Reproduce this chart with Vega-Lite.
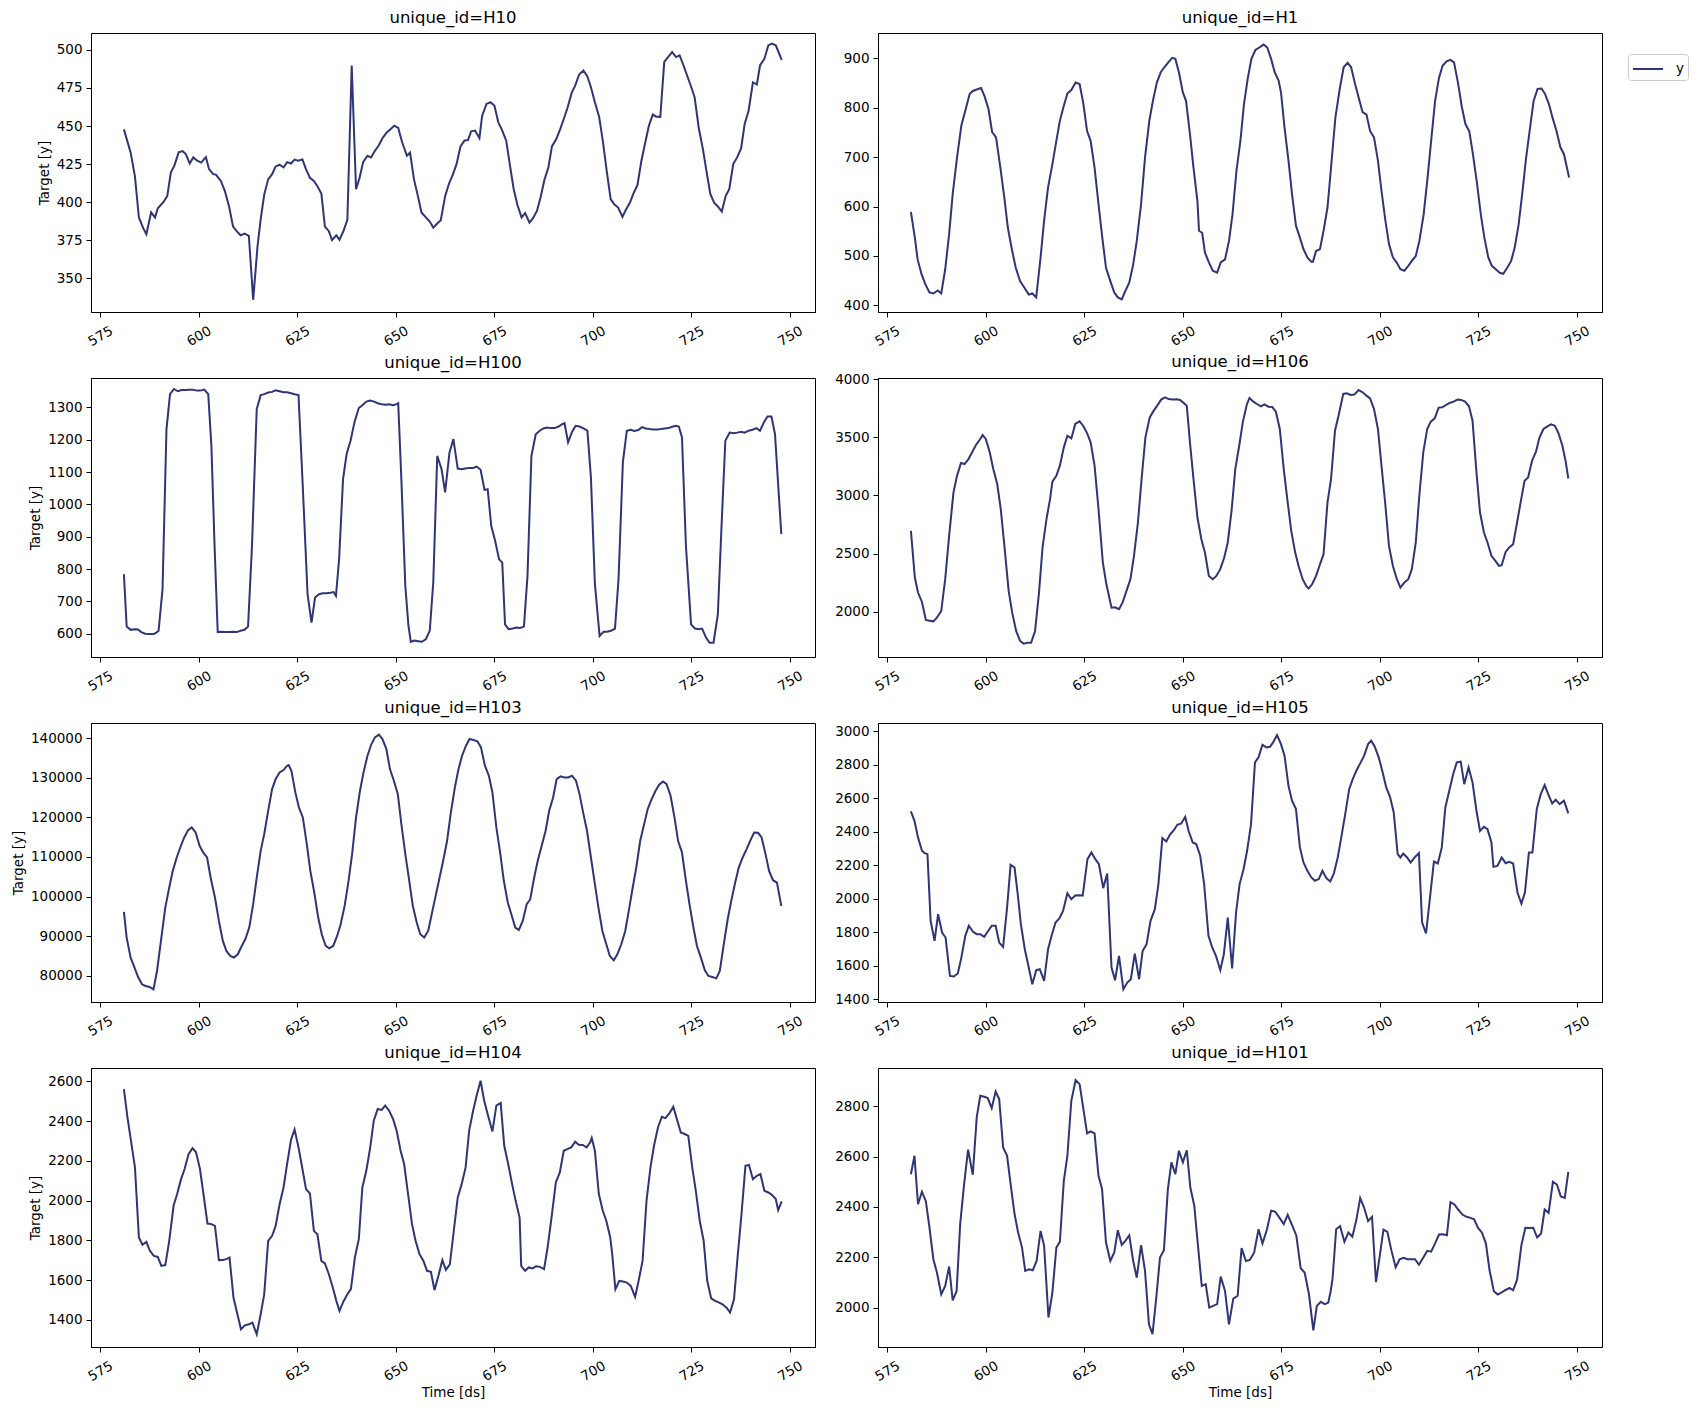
{
  "$schema": "https://vega.github.io/schema/vega-lite/v6.json",
  "background": "white",
  "padding": {"left": 10, "top": 9, "right": 5, "bottom": 5},
  "config": {
    "font": "DejaVu Sans",
    "view": {"stroke": "black", "strokeWidth": 1},
    "axis": {"grid": false, "domainColor": "black", "tickColor": "black", "labelColor": "black", "titleColor": "black", "labelFont": "DejaVu Sans", "titleFont": "DejaVu Sans", "labelFontSize": 13.5, "titleFontSize": 13.5, "titleFontWeight": "normal", "tickSize": 5, "labelPadding": 4, "titlePadding": 5},
    "axisX": {"labelAngle": -30, "labelAlign": "center", "labelBaseline": "middle", "labelPadding": 19},
    "title": {"font": "DejaVu Sans", "fontSize": 16.5, "fontWeight": "normal", "color": "black", "offset": 7, "frame": "group", "anchor": "middle"},
    "legend": {"labelFont": "DejaVu Sans", "labelFontSize": 13.5, "labelColor": "black"}
  },
  "datasets": {
    "H10": [
      {"ds":581,"y":447.8},{"ds":582.7,"y":432.7},{"ds":583.8,"y":417},{"ds":584.8,"y":390},{"ds":585.9,"y":383},{"ds":586.7,"y":379},{"ds":587.9,"y":393.4},{"ds":588.9,"y":390},{"ds":589.6,"y":396},{"ds":591,"y":400},{"ds":592,"y":404},{"ds":592.9,"y":419.5},{"ds":593.8,"y":424},{"ds":594.9,"y":432.7},{"ds":595.9,"y":433.5},{"ds":596.7,"y":431.6},{"ds":597.7,"y":425.4},{"ds":598.6,"y":429.4},{"ds":599.6,"y":427.2},{"ds":600.6,"y":426},{"ds":601.8,"y":429.6},{"ds":602.6,"y":421.7},{"ds":603.6,"y":418.6},{"ds":604.4,"y":418},{"ds":605.6,"y":414},{"ds":606.6,"y":407.5},{"ds":607.7,"y":397},{"ds":608.7,"y":384},{"ds":609.6,"y":381},{"ds":610.6,"y":378.3},{"ds":611.6,"y":379.4},{"ds":612.7,"y":378},{"ds":613.8,"y":336},{"ds":614.9,"y":371},{"ds":615.7,"y":388.8},{"ds":616.6,"y":405},{"ds":617.6,"y":415},{"ds":618.6,"y":418.4},{"ds":619.5,"y":423.5},{"ds":620.5,"y":424.6},{"ds":621.5,"y":422.8},{"ds":622.4,"y":426.3},{"ds":623.4,"y":425.4},{"ds":624.3,"y":428},{"ds":625.2,"y":427.2},{"ds":626.3,"y":428},{"ds":627.2,"y":421.7},{"ds":628.2,"y":416},{"ds":629.2,"y":414},{"ds":630.1,"y":410.5},{"ds":631.1,"y":405.7},{"ds":632,"y":384},{"ds":633,"y":381},{"ds":633.8,"y":375.2},{"ds":634.9,"y":378.3},{"ds":635.7,"y":375.4},{"ds":636.7,"y":381},{"ds":637.7,"y":388.4},{"ds":638.8,"y":489.7},{"ds":639.9,"y":408.5},{"ds":640.8,"y":416},{"ds":641.7,"y":426.3},{"ds":642.8,"y":430.5},{"ds":643.7,"y":429.4},{"ds":644.7,"y":433.8},{"ds":645.6,"y":437},{"ds":646.6,"y":442},{"ds":647.7,"y":445.8},{"ds":648.7,"y":448},{"ds":649.6,"y":450.2},{"ds":650.6,"y":448.7},{"ds":651.6,"y":439.3},{"ds":652.8,"y":430.5},{"ds":653.6,"y":432.5},{"ds":654.6,"y":415},{"ds":655.6,"y":404},{"ds":656.5,"y":393.3},{"ds":657.5,"y":390.4},{"ds":658.6,"y":387.3},{"ds":659.5,"y":383.3},{"ds":660.5,"y":386},{"ds":661.4,"y":388.2},{"ds":662.5,"y":404},{"ds":663.5,"y":412.3},{"ds":664.5,"y":418.4},{"ds":665.4,"y":425},{"ds":666.4,"y":436.6},{"ds":667.4,"y":440.4},{"ds":668.3,"y":440.8},{"ds":669.1,"y":446.5},{"ds":670.1,"y":447},{"ds":671.2,"y":442},{"ds":671.9,"y":456.8},{"ds":673,"y":464.5},{"ds":674,"y":465.6},{"ds":675,"y":463.4},{"ds":676,"y":452.4},{"ds":677,"y":447},{"ds":678,"y":440.4},{"ds":678.9,"y":425},{"ds":679.9,"y":408.6},{"ds":680.8,"y":398.7},{"ds":681.9,"y":390},{"ds":682.8,"y":392.8},{"ds":683.9,"y":386.6},{"ds":684.8,"y":389.5},{"ds":685.8,"y":394.3},{"ds":686.7,"y":403},{"ds":687.7,"y":414.7},{"ds":688.7,"y":422.8},{"ds":689.6,"y":436.6},{"ds":690.7,"y":441.4},{"ds":691.7,"y":448},{"ds":692.6,"y":454.6},{"ds":693.6,"y":462.3},{"ds":694.6,"y":471.7},{"ds":695.5,"y":476.5},{"ds":696.5,"y":483.8},{"ds":697.6,"y":486.4},{"ds":698.6,"y":482.5},{"ds":699.5,"y":475.4},{"ds":700.5,"y":465.6},{"ds":701.6,"y":455.7},{"ds":702.5,"y":440.4},{"ds":703.5,"y":420.6},{"ds":704.5,"y":402},{"ds":705.4,"y":398.7},{"ds":706.4,"y":396.5},{"ds":707.5,"y":390.4},{"ds":708.3,"y":394.7},{"ds":709.4,"y":399.8},{"ds":710.4,"y":406.4},{"ds":711.3,"y":411.2},{"ds":712.3,"y":427.2},{"ds":713.2,"y":438.2},{"ds":714.2,"y":450.2},{"ds":715.2,"y":457.5},{"ds":716.1,"y":456.1},{"ds":717.1,"y":456},{"ds":718.1,"y":492},{"ds":719,"y":495},{"ds":720.1,"y":498.5},{"ds":721.1,"y":495.2},{"ds":722,"y":496.3},{"ds":723,"y":489.7},{"ds":723.9,"y":483.1},{"ds":724.9,"y":475.9},{"ds":725.8,"y":468.9},{"ds":726.9,"y":448},{"ds":727.9,"y":435},{"ds":728.8,"y":420.6},{"ds":729.8,"y":405.3},{"ds":730.8,"y":399.6},{"ds":731.7,"y":397.2},{"ds":732.7,"y":393.9},{"ds":733.7,"y":404.2},{"ds":734.6,"y":408.6},{"ds":735.6,"y":425},{"ds":736.6,"y":429.4},{"ds":737.6,"y":435.3},{"ds":738.5,"y":451.3},{"ds":739.5,"y":460},{"ds":740.6,"y":478.7},{"ds":741.6,"y":477.2},{"ds":742.4,"y":489.7},{"ds":743.5,"y":494},{"ds":744.5,"y":502.9},{"ds":745.4,"y":504},{"ds":746.4,"y":502.9},{"ds":747.9,"y":493.4}
    ],
    "H1": [
      {"ds":581,"y":589},{"ds":582,"y":537},{"ds":582.7,"y":493},{"ds":583.7,"y":463},{"ds":584.6,"y":444},{"ds":585.7,"y":426},{"ds":586.7,"y":424},{"ds":587.8,"y":430},{"ds":588.7,"y":424},{"ds":589.7,"y":473},{"ds":590.7,"y":544},{"ds":591.6,"y":625},{"ds":592.7,"y":699},{"ds":593.8,"y":764},{"ds":594.8,"y":794},{"ds":595.9,"y":828},{"ds":596.7,"y":834},{"ds":597.7,"y":837},{"ds":598.8,"y":840},{"ds":599.7,"y":823},{"ds":600.7,"y":797},{"ds":601.6,"y":751},{"ds":602.6,"y":740},{"ds":603.7,"y":679},{"ds":604.7,"y":618},{"ds":605.6,"y":557},{"ds":606.6,"y":514},{"ds":607.6,"y":476},{"ds":608.7,"y":449},{"ds":609.6,"y":438},{"ds":610.9,"y":422},{"ds":611.8,"y":424},{"ds":612.8,"y":416},{"ds":613.9,"y":497},{"ds":614.8,"y":572},{"ds":615.8,"y":639},{"ds":616.9,"y":686},{"ds":617.9,"y":733},{"ds":618.8,"y":774},{"ds":619.8,"y":804},{"ds":620.7,"y":829},{"ds":621.7,"y":836},{"ds":622.8,"y":851},{"ds":623.8,"y":848},{"ds":624.7,"y":811},{"ds":625.7,"y":753},{"ds":626.6,"y":733},{"ds":627.6,"y":679},{"ds":628.6,"y":605},{"ds":629.5,"y":541},{"ds":630.5,"y":476},{"ds":631.6,"y":449},{"ds":632.6,"y":426},{"ds":633.5,"y":416},{"ds":634.5,"y":412},{"ds":635.4,"y":429},{"ds":636.4,"y":446},{"ds":637.4,"y":483},{"ds":638.3,"y":530},{"ds":639.4,"y":605},{"ds":640.4,"y":699},{"ds":641.5,"y":774},{"ds":642.4,"y":814},{"ds":643.4,"y":851},{"ds":644.4,"y":872},{"ds":645.3,"y":882},{"ds":646.3,"y":892},{"ds":647.3,"y":901},{"ds":648.1,"y":899},{"ds":649,"y":872},{"ds":650,"y":831},{"ds":650.8,"y":814},{"ds":651.8,"y":747},{"ds":652.7,"y":679},{"ds":653.7,"y":611},{"ds":654.1,"y":551},{"ds":654.9,"y":547},{"ds":655.6,"y":507},{"ds":656.6,"y":487},{"ds":657.6,"y":470},{"ds":658.7,"y":466},{"ds":659.6,"y":487},{"ds":660.7,"y":493},{"ds":661.7,"y":530},{"ds":662.6,"y":584},{"ds":663.6,"y":672},{"ds":664.6,"y":733},{"ds":665.5,"y":807},{"ds":666.5,"y":861},{"ds":667.4,"y":899},{"ds":668.4,"y":917},{"ds":669.4,"y":922},{"ds":670.5,"y":928},{"ds":671.4,"y":922},{"ds":672.4,"y":899},{"ds":673.3,"y":872},{"ds":674.3,"y":855},{"ds":674.9,"y":831},{"ds":675.8,"y":760},{"ds":676.8,"y":693},{"ds":677.7,"y":625},{"ds":678.7,"y":561},{"ds":679.7,"y":537},{"ds":680.6,"y":514},{"ds":681.6,"y":497},{"ds":682.6,"y":488},{"ds":683,"y":488},{"ds":683.8,"y":510},{"ds":684.8,"y":514},{"ds":685.7,"y":551},{"ds":686.7,"y":598},{"ds":687.6,"y":679},{"ds":688.7,"y":780},{"ds":689.8,"y":838},{"ds":690.8,"y":882},{"ds":691.8,"y":891},{"ds":692.7,"y":882},{"ds":693.7,"y":848},{"ds":694.6,"y":821},{"ds":695.6,"y":791},{"ds":696.6,"y":786},{"ds":697.5,"y":753},{"ds":698.5,"y":740},{"ds":699.5,"y":693},{"ds":700.4,"y":632},{"ds":701.4,"y":571},{"ds":702.3,"y":524},{"ds":703.3,"y":497},{"ds":704.3,"y":486},{"ds":705.2,"y":473},{"ds":706.2,"y":470},{"ds":707.2,"y":480},{"ds":708.1,"y":490},{"ds":709.1,"y":500},{"ds":710,"y":530},{"ds":711.1,"y":584},{"ds":712.1,"y":659},{"ds":713,"y":733},{"ds":714,"y":814},{"ds":715,"y":861},{"ds":715.9,"y":885},{"ds":716.9,"y":894},{"ds":717.9,"y":897},{"ds":718.8,"y":892},{"ds":719.8,"y":851},{"ds":720.8,"y":801},{"ds":721.7,"y":767},{"ds":722.7,"y":752},{"ds":723.6,"y":706},{"ds":724.6,"y":649},{"ds":725.6,"y":584},{"ds":726.5,"y":537},{"ds":727.5,"y":497},{"ds":728.4,"y":480},{"ds":729.4,"y":473},{"ds":730.4,"y":466},{"ds":731.3,"y":464},{"ds":732.3,"y":476},{"ds":733.3,"y":490},{"ds":734.2,"y":517},{"ds":735.2,"y":564},{"ds":736.1,"y":625},{"ds":737.1,"y":699},{"ds":738.1,"y":760},{"ds":739,"y":814},{"ds":740,"y":838},{"ds":741,"y":839},{"ds":741.9,"y":828},{"ds":742.9,"y":807},{"ds":743.8,"y":780},{"ds":744.8,"y":753},{"ds":745.8,"y":720},{"ds":746.7,"y":706},{"ds":748,"y":659}
    ],
    "H100": [
      {"ds":581,"y":784},{"ds":581.7,"y":622},{"ds":582.7,"y":612},{"ds":583.7,"y":614},{"ds":584.6,"y":613},{"ds":585.4,"y":605},{"ds":586.4,"y":600},{"ds":587.5,"y":599},{"ds":588.5,"y":599},{"ds":589.2,"y":603},{"ds":589.8,"y":609},{"ds":590.8,"y":738},{"ds":591.8,"y":1233},{"ds":592.7,"y":1341},{"ds":593.7,"y":1357},{"ds":594.7,"y":1350},{"ds":595.6,"y":1354},{"ds":596.6,"y":1354},{"ds":597.5,"y":1355},{"ds":598.5,"y":1355},{"ds":599.5,"y":1352},{"ds":600.4,"y":1352},{"ds":601.4,"y":1355},{"ds":602.4,"y":1341},{"ds":603.2,"y":1181},{"ds":604,"y":872},{"ds":604.8,"y":605},{"ds":605.8,"y":606},{"ds":606.7,"y":605},{"ds":607.7,"y":605},{"ds":608.7,"y":606},{"ds":609.6,"y":605},{"ds":610.6,"y":609},{"ds":611.6,"y":612},{"ds":612.5,"y":622},{"ds":613.5,"y":872},{"ds":614.7,"y":1295},{"ds":615.7,"y":1338},{"ds":616.6,"y":1341},{"ds":617.6,"y":1346},{"ds":618.6,"y":1348},{"ds":619.5,"y":1353},{"ds":620.5,"y":1350},{"ds":621.5,"y":1347},{"ds":622.4,"y":1347},{"ds":623.4,"y":1344},{"ds":624.3,"y":1341},{"ds":625.3,"y":1338},{"ds":626.3,"y":1078},{"ds":627.6,"y":722},{"ds":628.6,"y":634},{"ds":629.5,"y":712},{"ds":630.5,"y":722},{"ds":631.5,"y":725},{"ds":632.4,"y":725},{"ds":633.4,"y":727},{"ds":634.2,"y":729},{"ds":634.8,"y":717},{"ds":635.6,"y":830},{"ds":636.6,"y":1078},{"ds":637.5,"y":1155},{"ds":638.5,"y":1197},{"ds":639.5,"y":1254},{"ds":640.6,"y":1298},{"ds":641.5,"y":1307},{"ds":642.5,"y":1318},{"ds":643.5,"y":1321},{"ds":644.5,"y":1318},{"ds":645.4,"y":1313},{"ds":646.4,"y":1310},{"ds":647.4,"y":1308},{"ds":648.3,"y":1310},{"ds":649.3,"y":1307},{"ds":650.2,"y":1310},{"ds":650.6,"y":1313},{"ds":651.4,"y":1078},{"ds":652.4,"y":748},{"ds":653.2,"y":624},{"ds":653.8,"y":575},{"ds":654.7,"y":579},{"ds":655.7,"y":577},{"ds":656.6,"y":575},{"ds":657.6,"y":583},{"ds":658.6,"y":609},{"ds":659.5,"y":759},{"ds":660.5,"y":1150},{"ds":661.6,"y":1109},{"ds":662.5,"y":1037},{"ds":663.6,"y":1160},{"ds":664.6,"y":1202},{"ds":665.7,"y":1111},{"ds":666.7,"y":1109},{"ds":667.6,"y":1111},{"ds":668.6,"y":1113},{"ds":669.6,"y":1113},{"ds":670.5,"y":1117},{"ds":671.5,"y":1107},{"ds":672.5,"y":1045},{"ds":673.3,"y":1047},{"ds":674.2,"y":934},{"ds":675.2,"y":887},{"ds":676.2,"y":830},{"ds":677,"y":820},{"ds":677.7,"y":629},{"ds":678.6,"y":614},{"ds":679.6,"y":616},{"ds":680.6,"y":619},{"ds":681.5,"y":618},{"ds":682.5,"y":622},{"ds":683.4,"y":779},{"ds":684.4,"y":1150},{"ds":685.5,"y":1217},{"ds":686.5,"y":1228},{"ds":687.4,"y":1235},{"ds":688.4,"y":1238},{"ds":689.3,"y":1236},{"ds":690.3,"y":1236},{"ds":691.3,"y":1241},{"ds":692.2,"y":1248},{"ds":692.8,"y":1251},{"ds":693.7,"y":1192},{"ds":694.7,"y":1224},{"ds":695.6,"y":1243},{"ds":696.6,"y":1241},{"ds":697.6,"y":1235},{"ds":698.6,"y":1228},{"ds":699.5,"y":1083},{"ds":700.5,"y":754},{"ds":701.7,"y":593},{"ds":702.7,"y":606},{"ds":703.6,"y":606},{"ds":704.6,"y":609},{"ds":705.6,"y":616},{"ds":706.5,"y":769},{"ds":707.6,"y":1130},{"ds":708.6,"y":1228},{"ds":709.6,"y":1231},{"ds":710.5,"y":1227},{"ds":711.5,"y":1230},{"ds":712.5,"y":1239},{"ds":713.4,"y":1235},{"ds":714.4,"y":1233},{"ds":715.3,"y":1232},{"ds":716.3,"y":1232},{"ds":717.3,"y":1233},{"ds":718.2,"y":1235},{"ds":719.2,"y":1236},{"ds":720.1,"y":1240},{"ds":721.1,"y":1243},{"ds":721.8,"y":1241},{"ds":722.6,"y":1207},{"ds":723.6,"y":872},{"ds":724.9,"y":629},{"ds":725.9,"y":616},{"ds":726.9,"y":614},{"ds":727.7,"y":616},{"ds":728.7,"y":588},{"ds":729.6,"y":572},{"ds":730.6,"y":572},{"ds":731.7,"y":660},{"ds":732.6,"y":923},{"ds":733.6,"y":1197},{"ds":734.7,"y":1222},{"ds":735.7,"y":1220},{"ds":736.6,"y":1222},{"ds":737.6,"y":1225},{"ds":738.5,"y":1222},{"ds":739.5,"y":1228},{"ds":740.5,"y":1231},{"ds":741.5,"y":1236},{"ds":742.4,"y":1228},{"ds":743.4,"y":1254},{"ds":744.3,"y":1272},{"ds":745.3,"y":1272},{"ds":746.2,"y":1217},{"ds":747.8,"y":908}
    ],
    "H106": [
      {"ds":581,"y":2695},{"ds":582,"y":2293},{"ds":582.8,"y":2164},{"ds":583.8,"y":2083},{"ds":584.8,"y":1928},{"ds":585.7,"y":1922},{"ds":586.7,"y":1916},{"ds":587.6,"y":1948},{"ds":588.7,"y":2005},{"ds":589.7,"y":2279},{"ds":590.7,"y":2652},{"ds":591.8,"y":3026},{"ds":592.7,"y":3169},{"ds":593.7,"y":3279},{"ds":594.6,"y":3270},{"ds":595.6,"y":3313},{"ds":596.6,"y":3376},{"ds":597.5,"y":3434},{"ds":598.6,"y":3486},{"ds":599.2,"y":3520},{"ds":600,"y":3486},{"ds":601,"y":3371},{"ds":601.9,"y":3227},{"ds":602.9,"y":3098},{"ds":603.8,"y":2882},{"ds":604.8,"y":2537},{"ds":605.8,"y":2178},{"ds":606.7,"y":1991},{"ds":607.7,"y":1833},{"ds":608.7,"y":1747},{"ds":609.6,"y":1724},{"ds":610.6,"y":1732},{"ds":611.5,"y":1732},{"ds":612.5,"y":1833},{"ds":613.5,"y":2164},{"ds":614.4,"y":2552},{"ds":615.4,"y":2796},{"ds":616.3,"y":2968},{"ds":616.9,"y":3118},{"ds":617.9,"y":3169},{"ds":618.8,"y":3256},{"ds":619.8,"y":3414},{"ds":620.7,"y":3514},{"ds":621.7,"y":3491},{"ds":622.7,"y":3615},{"ds":623.8,"y":3638},{"ds":624.7,"y":3600},{"ds":625.7,"y":3537},{"ds":626.6,"y":3457},{"ds":627.6,"y":3256},{"ds":628.6,"y":2882},{"ds":629.7,"y":2422},{"ds":630.6,"y":2235},{"ds":631.9,"y":2034},{"ds":632.8,"y":2037},{"ds":633.8,"y":2020},{"ds":634.7,"y":2077},{"ds":635.7,"y":2178},{"ds":636.7,"y":2279},{"ds":637.6,"y":2480},{"ds":638.6,"y":2767},{"ds":639.6,"y":3169},{"ds":640.5,"y":3500},{"ds":641.6,"y":3672},{"ds":642.6,"y":3730},{"ds":643.5,"y":3773},{"ds":644.5,"y":3825},{"ds":645.5,"y":3845},{"ds":646.4,"y":3830},{"ds":647.4,"y":3825},{"ds":648.4,"y":3828},{"ds":649.3,"y":3822},{"ds":650.3,"y":3793},{"ds":651,"y":3773},{"ds":651.8,"y":3457},{"ds":652.7,"y":3141},{"ds":653.7,"y":2810},{"ds":654.7,"y":2623},{"ds":655.6,"y":2508},{"ds":656.6,"y":2307},{"ds":657.6,"y":2279},{"ds":658.5,"y":2307},{"ds":659.5,"y":2365},{"ds":660.5,"y":2465},{"ds":661.4,"y":2595},{"ds":662.4,"y":2882},{"ds":663.3,"y":3227},{"ds":664.3,"y":3428},{"ds":665.2,"y":3629},{"ds":666.2,"y":3779},{"ds":666.9,"y":3839},{"ds":667.9,"y":3807},{"ds":668.8,"y":3787},{"ds":669.8,"y":3767},{"ds":670.7,"y":3784},{"ds":671.7,"y":3764},{"ds":672.7,"y":3761},{"ds":673.6,"y":3721},{"ds":674.6,"y":3572},{"ds":675.6,"y":3227},{"ds":676.5,"y":2968},{"ds":677.5,"y":2695},{"ds":678.5,"y":2508},{"ds":679.4,"y":2388},{"ds":680.4,"y":2279},{"ds":681.3,"y":2221},{"ds":681.9,"y":2198},{"ds":682.8,"y":2235},{"ds":683.8,"y":2307},{"ds":684.8,"y":2408},{"ds":685.7,"y":2494},{"ds":686.7,"y":2940},{"ds":687.6,"y":3141},{"ds":688.6,"y":3557},{"ds":689.6,"y":3701},{"ds":690.7,"y":3874},{"ds":691.6,"y":3879},{"ds":692.6,"y":3865},{"ds":693.5,"y":3868},{"ds":694.6,"y":3908},{"ds":695.6,"y":3888},{"ds":696.6,"y":3859},{"ds":697.5,"y":3836},{"ds":698.5,"y":3744},{"ds":699.5,"y":3572},{"ds":700.4,"y":3256},{"ds":701.4,"y":2911},{"ds":702.3,"y":2566},{"ds":703.3,"y":2393},{"ds":704.3,"y":2279},{"ds":705.2,"y":2207},{"ds":706.2,"y":2250},{"ds":707.2,"y":2279},{"ds":708.1,"y":2365},{"ds":709.1,"y":2595},{"ds":710,"y":2997},{"ds":711,"y":3371},{"ds":712,"y":3572},{"ds":712.9,"y":3635},{"ds":713.9,"y":3664},{"ds":714.9,"y":3756},{"ds":715.8,"y":3759},{"ds":716.8,"y":3779},{"ds":717.7,"y":3796},{"ds":718.7,"y":3807},{"ds":719.7,"y":3825},{"ds":720.6,"y":3822},{"ds":721.6,"y":3807},{"ds":722.6,"y":3767},{"ds":723.5,"y":3644},{"ds":724.5,"y":3198},{"ds":725.4,"y":2853},{"ds":726.4,"y":2681},{"ds":727.3,"y":2595},{"ds":728.3,"y":2480},{"ds":729.3,"y":2437},{"ds":730.2,"y":2393},{"ds":730.9,"y":2399},{"ds":731.9,"y":2514},{"ds":732.8,"y":2552},{"ds":733.8,"y":2580},{"ds":734.8,"y":2767},{"ds":735.7,"y":2940},{"ds":736.7,"y":3126},{"ds":737.6,"y":3155},{"ds":738.6,"y":3299},{"ds":739.6,"y":3376},{"ds":740.5,"y":3500},{"ds":741.5,"y":3572},{"ds":742.4,"y":3592},{"ds":743.4,"y":3612},{"ds":744.4,"y":3600},{"ds":745.3,"y":3537},{"ds":746.3,"y":3428},{"ds":747.1,"y":3299},{"ds":747.8,"y":3146}
    ],
    "H103": [
      {"ds":581,"y":96130},{"ds":581.7,"y":89650},{"ds":582.7,"y":84600},{"ds":583.7,"y":82070},{"ds":584.6,"y":79710},{"ds":585.6,"y":77860},{"ds":586.5,"y":77440},{"ds":587.5,"y":77190},{"ds":588.5,"y":76600},{"ds":589.4,"y":81230},{"ds":590.4,"y":88810},{"ds":591.5,"y":97230},{"ds":592.5,"y":102280},{"ds":593.4,"y":106490},{"ds":594.4,"y":109860},{"ds":595.3,"y":112380},{"ds":596.3,"y":114910},{"ds":597.3,"y":116760},{"ds":598.2,"y":117430},{"ds":599.2,"y":116170},{"ds":600.2,"y":112800},{"ds":601.1,"y":111120},{"ds":602.1,"y":109860},{"ds":603,"y":104800},{"ds":604.1,"y":99750},{"ds":605.1,"y":93860},{"ds":606.1,"y":88810},{"ds":607,"y":86280},{"ds":608,"y":85020},{"ds":608.9,"y":84600},{"ds":609.9,"y":85440},{"ds":610.9,"y":87540},{"ds":611.8,"y":89230},{"ds":612.8,"y":92180},{"ds":613.8,"y":98070},{"ds":614.7,"y":104800},{"ds":615.7,"y":111540},{"ds":616.6,"y":115750},{"ds":617.6,"y":121640},{"ds":618.6,"y":127120},{"ds":619.5,"y":129650},{"ds":620.5,"y":131330},{"ds":621.5,"y":131920},{"ds":622.4,"y":133010},{"ds":622.8,"y":133180},{"ds":623.5,"y":131750},{"ds":624.5,"y":126280},{"ds":625.4,"y":122490},{"ds":626.4,"y":119960},{"ds":627.4,"y":113220},{"ds":628.3,"y":106490},{"ds":629.3,"y":101020},{"ds":630.3,"y":94700},{"ds":631.2,"y":90490},{"ds":632.2,"y":87540},{"ds":633.1,"y":86950},{"ds":634.1,"y":87540},{"ds":635.1,"y":90070},{"ds":636,"y":93020},{"ds":637,"y":97650},{"ds":638,"y":103960},{"ds":638.9,"y":110700},{"ds":639.9,"y":119960},{"ds":640.9,"y":126700},{"ds":641.8,"y":131330},{"ds":642.8,"y":135540},{"ds":643.8,"y":138480},{"ds":644.7,"y":140170},{"ds":645.7,"y":140840},{"ds":646.6,"y":139750},{"ds":647.6,"y":137220},{"ds":648.5,"y":132170},{"ds":649.5,"y":129220},{"ds":650.5,"y":125850},{"ds":651.4,"y":118280},{"ds":652.4,"y":110700},{"ds":653.4,"y":103960},{"ds":654.3,"y":97650},{"ds":655.3,"y":93440},{"ds":656.2,"y":90490},{"ds":657.2,"y":89650},{"ds":658.2,"y":91330},{"ds":659.1,"y":95540},{"ds":660.1,"y":100170},{"ds":661.1,"y":104800},{"ds":662,"y":109020},{"ds":663,"y":114070},{"ds":663.9,"y":120800},{"ds":664.9,"y":127120},{"ds":665.8,"y":131750},{"ds":666.8,"y":135540},{"ds":667.8,"y":138060},{"ds":668.7,"y":139750},{"ds":669.7,"y":139500},{"ds":670.7,"y":139160},{"ds":671.6,"y":137640},{"ds":672.6,"y":133010},{"ds":673.6,"y":130490},{"ds":674.5,"y":126280},{"ds":675.5,"y":117430},{"ds":676.4,"y":111540},{"ds":677.4,"y":103960},{"ds":678.4,"y":98490},{"ds":679.3,"y":95540},{"ds":680.3,"y":92180},{"ds":681.2,"y":91590},{"ds":682.2,"y":93860},{"ds":683.2,"y":98070},{"ds":684.1,"y":99330},{"ds":685.1,"y":104800},{"ds":686,"y":109020},{"ds":687,"y":112800},{"ds":688,"y":116600},{"ds":688.9,"y":121640},{"ds":689.9,"y":125010},{"ds":690.8,"y":129650},{"ds":691.8,"y":130320},{"ds":692.8,"y":130070},{"ds":693.7,"y":130070},{"ds":694.7,"y":130490},{"ds":695.7,"y":129220},{"ds":696.6,"y":125850},{"ds":697.6,"y":120800},{"ds":698.5,"y":116600},{"ds":699.5,"y":109860},{"ds":700.5,"y":103120},{"ds":701.4,"y":97230},{"ds":702.4,"y":91330},{"ds":703.4,"y":87960},{"ds":704.3,"y":85020},{"ds":705.3,"y":83920},{"ds":706.2,"y":85440},{"ds":707.2,"y":87960},{"ds":708.2,"y":91330},{"ds":709.1,"y":96390},{"ds":710.1,"y":102280},{"ds":711,"y":107330},{"ds":712,"y":114070},{"ds":713,"y":118280},{"ds":713.9,"y":122070},{"ds":714.9,"y":124590},{"ds":715.9,"y":126700},{"ds":716.8,"y":128210},{"ds":717.8,"y":129050},{"ds":718.7,"y":128380},{"ds":719.7,"y":125430},{"ds":720.7,"y":119960},{"ds":721.6,"y":114070},{"ds":722.6,"y":111120},{"ds":723.6,"y":103960},{"ds":724.5,"y":98070},{"ds":725.5,"y":92180},{"ds":726.4,"y":87540},{"ds":727.4,"y":84600},{"ds":728.4,"y":81400},{"ds":729.3,"y":79970},{"ds":730.3,"y":79710},{"ds":731.3,"y":79370},{"ds":732.2,"y":81230},{"ds":733.2,"y":87960},{"ds":734.2,"y":94280},{"ds":735.1,"y":98910},{"ds":736.1,"y":103540},{"ds":737,"y":107330},{"ds":738,"y":109860},{"ds":739,"y":111960},{"ds":739.9,"y":114070},{"ds":740.9,"y":116170},{"ds":741.9,"y":116090},{"ds":742.8,"y":114910},{"ds":743.8,"y":110700},{"ds":744.7,"y":106490},{"ds":745.7,"y":104130},{"ds":746.7,"y":103540},{"ds":747.8,"y":97650}
    ],
    "H105": [
      {"ds":581,"y":2522},{"ds":581.9,"y":2466},{"ds":582.8,"y":2367},{"ds":583.8,"y":2287},{"ds":584.5,"y":2273},{"ds":585.2,"y":2267},{"ds":586,"y":1869},{"ds":587,"y":1749},{"ds":587.9,"y":1908},{"ds":588.9,"y":1799},{"ds":589.8,"y":1769},{"ds":590.9,"y":1540},{"ds":591.9,"y":1536},{"ds":592.9,"y":1554},{"ds":593.8,"y":1649},{"ds":594.8,"y":1779},{"ds":595.7,"y":1839},{"ds":596.7,"y":1805},{"ds":597.7,"y":1789},{"ds":598.6,"y":1789},{"ds":599.6,"y":1773},{"ds":600.5,"y":1805},{"ds":601.5,"y":1839},{"ds":602.5,"y":1839},{"ds":603.4,"y":1739},{"ds":604.4,"y":1713},{"ds":605.4,"y":1948},{"ds":606.3,"y":2203},{"ds":607.3,"y":2187},{"ds":608.1,"y":2028},{"ds":608.9,"y":1849},{"ds":609.9,"y":1699},{"ds":610.9,"y":1590},{"ds":611.8,"y":1490},{"ds":612.8,"y":1574},{"ds":613.7,"y":1580},{"ds":614.8,"y":1510},{"ds":615.8,"y":1699},{"ds":616.8,"y":1789},{"ds":617.7,"y":1859},{"ds":618.7,"y":1884},{"ds":619.6,"y":1928},{"ds":620.7,"y":2034},{"ds":621.7,"y":1998},{"ds":622.7,"y":2020},{"ds":623.6,"y":2022},{"ds":624.6,"y":2020},{"ds":625.8,"y":2237},{"ds":626.8,"y":2277},{"ds":627.8,"y":2237},{"ds":628.7,"y":2207},{"ds":629.8,"y":2064},{"ds":630.8,"y":2151},{"ds":631.9,"y":1590},{"ds":632.8,"y":1514},{"ds":633.8,"y":1659},{"ds":634.9,"y":1460},{"ds":635.9,"y":1500},{"ds":636.8,"y":1520},{"ds":637.8,"y":1673},{"ds":638.9,"y":1520},{"ds":639.8,"y":1689},{"ds":640.8,"y":1729},{"ds":641.8,"y":1869},{"ds":642.9,"y":1938},{"ds":643.8,"y":2088},{"ds":644.8,"y":2363},{"ds":645.8,"y":2343},{"ds":646.7,"y":2382},{"ds":647.7,"y":2410},{"ds":648.6,"y":2442},{"ds":649.6,"y":2450},{"ds":650.6,"y":2490},{"ds":651.5,"y":2402},{"ds":652.5,"y":2337},{"ds":653.4,"y":2327},{"ds":654.4,"y":2257},{"ds":655.4,"y":2088},{"ds":656.5,"y":1779},{"ds":657.4,"y":1713},{"ds":658.4,"y":1659},{"ds":659.5,"y":1574},{"ds":660.4,"y":1669},{"ds":661.4,"y":1888},{"ds":662.5,"y":1584},{"ds":663.5,"y":1918},{"ds":664.4,"y":2088},{"ds":665.4,"y":2177},{"ds":666.3,"y":2287},{"ds":667.3,"y":2446},{"ds":668.3,"y":2815},{"ds":669.2,"y":2845},{"ds":670.2,"y":2920},{"ds":671.2,"y":2904},{"ds":672.1,"y":2908},{"ds":672.9,"y":2934},{"ds":673.9,"y":2978},{"ds":674.9,"y":2924},{"ds":675.8,"y":2855},{"ds":676.8,"y":2675},{"ds":677.7,"y":2586},{"ds":678.7,"y":2536},{"ds":679.7,"y":2307},{"ds":680.6,"y":2217},{"ds":681.6,"y":2167},{"ds":682.6,"y":2128},{"ds":683.5,"y":2108},{"ds":684.5,"y":2118},{"ds":685.4,"y":2167},{"ds":686.4,"y":2124},{"ds":687.4,"y":2104},{"ds":688.3,"y":2151},{"ds":689.3,"y":2247},{"ds":690.2,"y":2367},{"ds":691.2,"y":2506},{"ds":692.2,"y":2655},{"ds":693.1,"y":2715},{"ds":694.1,"y":2769},{"ds":695,"y":2809},{"ds":696,"y":2855},{"ds":697,"y":2924},{"ds":697.8,"y":2944},{"ds":698.7,"y":2908},{"ds":699.7,"y":2845},{"ds":700.7,"y":2755},{"ds":701.6,"y":2665},{"ds":702.6,"y":2606},{"ds":703.5,"y":2516},{"ds":704.5,"y":2267},{"ds":705.2,"y":2247},{"ds":705.9,"y":2271},{"ds":706.9,"y":2247},{"ds":707.8,"y":2217},{"ds":708.8,"y":2247},{"ds":709.9,"y":2273},{"ds":710.7,"y":1859},{"ds":711.7,"y":1793},{"ds":712.8,"y":2028},{"ds":713.7,"y":2223},{"ds":714.7,"y":2211},{"ds":715.7,"y":2307},{"ds":716.6,"y":2546},{"ds":717.6,"y":2645},{"ds":718.6,"y":2745},{"ds":719.5,"y":2815},{"ds":720.5,"y":2819},{"ds":721.4,"y":2685},{"ds":722.5,"y":2785},{"ds":723.5,"y":2695},{"ds":724.5,"y":2526},{"ds":725.4,"y":2406},{"ds":726.4,"y":2430},{"ds":727.3,"y":2416},{"ds":728.3,"y":2337},{"ds":728.8,"y":2191},{"ds":729.8,"y":2197},{"ds":730.9,"y":2247},{"ds":731.9,"y":2213},{"ds":732.8,"y":2221},{"ds":733.8,"y":2211},{"ds":734.9,"y":2038},{"ds":735.9,"y":1972},{"ds":736.8,"y":2038},{"ds":737.8,"y":2277},{"ds":738.7,"y":2277},{"ds":739.8,"y":2536},{"ds":740.8,"y":2625},{"ds":741.8,"y":2679},{"ds":742.7,"y":2625},{"ds":743.7,"y":2570},{"ds":744.6,"y":2592},{"ds":745.6,"y":2566},{"ds":746.7,"y":2586},{"ds":747.8,"y":2510}
    ],
    "H104": [
      {"ds":581,"y":2561},{"ds":581.9,"y":2419},{"ds":582.8,"y":2301},{"ds":583.8,"y":2167},{"ds":584.8,"y":1815},{"ds":585.7,"y":1778},{"ds":586.7,"y":1793},{"ds":587.6,"y":1748},{"ds":588.6,"y":1722},{"ds":589.6,"y":1717},{"ds":590.5,"y":1672},{"ds":591.5,"y":1676},{"ds":592.5,"y":1798},{"ds":593.6,"y":1974},{"ds":594.5,"y":2033},{"ds":595.5,"y":2108},{"ds":596.4,"y":2159},{"ds":597.4,"y":2234},{"ds":598.4,"y":2264},{"ds":599.3,"y":2243},{"ds":600.3,"y":2159},{"ds":601.3,"y":2016},{"ds":602.2,"y":1885},{"ds":603.2,"y":1882},{"ds":604.1,"y":1873},{"ds":605.1,"y":1701},{"ds":606.1,"y":1702},{"ds":607,"y":1706},{"ds":607.8,"y":1714},{"ds":608.8,"y":1513},{"ds":609.8,"y":1429},{"ds":610.7,"y":1353},{"ds":611.7,"y":1373},{"ds":612.7,"y":1378},{"ds":613.6,"y":1387},{"ds":614.7,"y":1328},{"ds":615.7,"y":1429},{"ds":616.6,"y":1529},{"ds":617.6,"y":1798},{"ds":618.6,"y":1823},{"ds":619.5,"y":1873},{"ds":620.5,"y":1982},{"ds":621.5,"y":2066},{"ds":622.4,"y":2184},{"ds":623.4,"y":2306},{"ds":624.3,"y":2358},{"ds":625.3,"y":2268},{"ds":626.3,"y":2159},{"ds":627.2,"y":2058},{"ds":628.2,"y":2036},{"ds":629.2,"y":1848},{"ds":630.1,"y":1831},{"ds":631.1,"y":1697},{"ds":632,"y":1684},{"ds":633,"y":1630},{"ds":634,"y":1563},{"ds":634.9,"y":1496},{"ds":635.7,"y":1446},{"ds":636.7,"y":1493},{"ds":637.7,"y":1529},{"ds":638.6,"y":1555},{"ds":639.6,"y":1714},{"ds":640.6,"y":1806},{"ds":641.5,"y":2066},{"ds":642.5,"y":2150},{"ds":643.5,"y":2268},{"ds":644.4,"y":2402},{"ds":645.4,"y":2461},{"ds":646.4,"y":2456},{"ds":647.3,"y":2478},{"ds":648.3,"y":2452},{"ds":649.3,"y":2410},{"ds":650.2,"y":2352},{"ds":651.2,"y":2251},{"ds":652.1,"y":2184},{"ds":653.1,"y":2033},{"ds":654.1,"y":1882},{"ds":655,"y":1798},{"ds":656,"y":1731},{"ds":657,"y":1697},{"ds":657.9,"y":1647},{"ds":658.9,"y":1642},{"ds":659.8,"y":1550},{"ds":660.8,"y":1622},{"ds":661.8,"y":1701},{"ds":662.7,"y":1652},{"ds":663.7,"y":1680},{"ds":664.6,"y":1831},{"ds":665.7,"y":2016},{"ds":666.7,"y":2083},{"ds":667.7,"y":2167},{"ds":668.6,"y":2352},{"ds":669.6,"y":2452},{"ds":670.6,"y":2536},{"ds":671.5,"y":2603},{"ds":672.4,"y":2503},{"ds":673.4,"y":2427},{"ds":674.5,"y":2348},{"ds":675.5,"y":2478},{"ds":676.6,"y":2491},{"ds":677.5,"y":2276},{"ds":678.5,"y":2184},{"ds":679.5,"y":2083},{"ds":680.4,"y":1999},{"ds":681.4,"y":1915},{"ds":681.8,"y":1672},{"ds":682.8,"y":1647},{"ds":683.7,"y":1664},{"ds":684.7,"y":1659},{"ds":685.6,"y":1670},{"ds":686.6,"y":1667},{"ds":687.6,"y":1655},{"ds":688.5,"y":1764},{"ds":689.5,"y":1915},{"ds":690.6,"y":2092},{"ds":691.6,"y":2142},{"ds":692.6,"y":2251},{"ds":693.5,"y":2259},{"ds":694.5,"y":2268},{"ds":695.5,"y":2296},{"ds":696.4,"y":2281},{"ds":697.4,"y":2280},{"ds":698.4,"y":2268},{"ds":699.3,"y":2293},{"ds":699.7,"y":2315},{"ds":700.5,"y":2251},{"ds":701.5,"y":2033},{"ds":702.5,"y":1949},{"ds":703.4,"y":1899},{"ds":704.4,"y":1815},{"ds":704.9,"y":1731},{"ds":705.7,"y":1555},{"ds":706.7,"y":1597},{"ds":707.6,"y":1593},{"ds":708.6,"y":1588},{"ds":709.6,"y":1571},{"ds":710.7,"y":1516},{"ds":711.6,"y":1597},{"ds":712.6,"y":1697},{"ds":713.6,"y":1999},{"ds":714.6,"y":2167},{"ds":715.5,"y":2276},{"ds":716.5,"y":2368},{"ds":717.5,"y":2422},{"ds":718.4,"y":2415},{"ds":719.4,"y":2439},{"ds":720.4,"y":2472},{"ds":721.3,"y":2410},{"ds":722.3,"y":2343},{"ds":723.3,"y":2335},{"ds":724.2,"y":2326},{"ds":725.2,"y":2167},{"ds":726.1,"y":2050},{"ds":727.1,"y":1899},{"ds":728.1,"y":1798},{"ds":729,"y":1597},{"ds":730,"y":1509},{"ds":731,"y":1496},{"ds":731.9,"y":1488},{"ds":732.9,"y":1479},{"ds":733.9,"y":1462},{"ds":734.8,"y":1437},{"ds":735.8,"y":1504},{"ds":736.7,"y":1714},{"ds":737.7,"y":1932},{"ds":738.7,"y":2175},{"ds":739.6,"y":2179},{"ds":740.6,"y":2108},{"ds":741.6,"y":2125},{"ds":742.5,"y":2134},{"ds":743.5,"y":2050},{"ds":744.5,"y":2041},{"ds":745.4,"y":2029},{"ds":746.4,"y":2008},{"ds":747,"y":1952},{"ds":747.9,"y":1996}
    ],
    "H101": [
      {"ds":581,"y":2530},{"ds":581.9,"y":2603},{"ds":582.8,"y":2411},{"ds":583.8,"y":2461},{"ds":584.8,"y":2422},{"ds":585.7,"y":2319},{"ds":586.7,"y":2193},{"ds":587.6,"y":2140},{"ds":588.7,"y":2054},{"ds":589.7,"y":2087},{"ds":590.7,"y":2164},{"ds":591.6,"y":2030},{"ds":592.6,"y":2067},{"ds":593.5,"y":2332},{"ds":594.5,"y":2491},{"ds":595.5,"y":2627},{"ds":596.7,"y":2528},{"ds":597.7,"y":2755},{"ds":598.6,"y":2841},{"ds":599.6,"y":2837},{"ds":600.5,"y":2832},{"ds":601.5,"y":2792},{"ds":602.5,"y":2858},{"ds":603.4,"y":2828},{"ds":604.4,"y":2636},{"ds":605.4,"y":2603},{"ds":606.3,"y":2491},{"ds":607.3,"y":2372},{"ds":608.2,"y":2299},{"ds":609.2,"y":2239},{"ds":610,"y":2147},{"ds":611,"y":2153},{"ds":611.9,"y":2149},{"ds":612.9,"y":2186},{"ds":613.9,"y":2305},{"ds":614.8,"y":2246},{"ds":615.9,"y":1962},{"ds":616.9,"y":2061},{"ds":617.9,"y":2239},{"ds":618.8,"y":2262},{"ds":619.8,"y":2504},{"ds":620.7,"y":2603},{"ds":621.7,"y":2821},{"ds":622.8,"y":2903},{"ds":623.8,"y":2887},{"ds":624.7,"y":2795},{"ds":625.7,"y":2692},{"ds":626.6,"y":2700},{"ds":627.6,"y":2692},{"ds":628.6,"y":2524},{"ds":629.5,"y":2471},{"ds":630.5,"y":2259},{"ds":631.6,"y":2186},{"ds":632.6,"y":2220},{"ds":633.5,"y":2308},{"ds":634.5,"y":2250},{"ds":635.4,"y":2266},{"ds":636.4,"y":2288},{"ds":637.4,"y":2186},{"ds":638.3,"y":2120},{"ds":639.4,"y":2249},{"ds":640.4,"y":2147},{"ds":641.4,"y":1935},{"ds":642.3,"y":1896},{"ds":643.3,"y":2048},{"ds":644.2,"y":2200},{"ds":645.2,"y":2229},{"ds":646.2,"y":2471},{"ds":647.1,"y":2577},{"ds":648.1,"y":2530},{"ds":649,"y":2623},{"ds":650,"y":2577},{"ds":651,"y":2625},{"ds":651.9,"y":2477},{"ds":652.9,"y":2405},{"ds":653.8,"y":2253},{"ds":654.8,"y":2087},{"ds":655.8,"y":2094},{"ds":656.7,"y":2001},{"ds":657.7,"y":2008},{"ds":658.7,"y":2015},{"ds":659.6,"y":2124},{"ds":660.7,"y":2067},{"ds":661.7,"y":1935},{"ds":662.8,"y":2037},{"ds":663.9,"y":2048},{"ds":664.9,"y":2237},{"ds":666,"y":2186},{"ds":667,"y":2190},{"ds":668.1,"y":2220},{"ds":669.2,"y":2312},{"ds":670.2,"y":2255},{"ds":671.3,"y":2309},{"ds":672.4,"y":2385},{"ds":673.4,"y":2382},{"ds":674.5,"y":2358},{"ds":675.6,"y":2332},{"ds":676.6,"y":2369},{"ds":677.8,"y":2325},{"ds":678.8,"y":2286},{"ds":679.9,"y":2157},{"ds":680.9,"y":2140},{"ds":682,"y":2054},{"ds":683.1,"y":1911},{"ds":684,"y":2008},{"ds":685,"y":2024},{"ds":686,"y":2015},{"ds":686.9,"y":2021},{"ds":687.5,"y":2066},{"ds":688,"y":2118},{"ds":688.9,"y":2312},{"ds":689.9,"y":2324},{"ds":691,"y":2262},{"ds":692,"y":2299},{"ds":693,"y":2282},{"ds":694,"y":2347},{"ds":695,"y":2435},{"ds":696,"y":2397},{"ds":697,"y":2344},{"ds":698,"y":2361},{"ds":699,"y":2102},{"ds":700,"y":2210},{"ds":700.9,"y":2310},{"ds":701.9,"y":2301},{"ds":702.9,"y":2229},{"ds":704,"y":2161},{"ds":705,"y":2193},{"ds":706,"y":2199},{"ds":707,"y":2193},{"ds":708,"y":2193},{"ds":708.9,"y":2193},{"ds":709.9,"y":2171},{"ds":710.9,"y":2197},{"ds":712,"y":2226},{"ds":713,"y":2223},{"ds":714,"y":2256},{"ds":715,"y":2291},{"ds":716,"y":2292},{"ds":717,"y":2288},{"ds":717.9,"y":2419},{"ds":718.9,"y":2410},{"ds":719.9,"y":2389},{"ds":721,"y":2369},{"ds":722,"y":2361},{"ds":723,"y":2357},{"ds":723.9,"y":2351},{"ds":724.9,"y":2317},{"ds":725.9,"y":2298},{"ds":726.9,"y":2255},{"ds":727.8,"y":2151},{"ds":728.9,"y":2066},{"ds":729.9,"y":2053},{"ds":730.9,"y":2062},{"ds":731.9,"y":2071},{"ds":732.9,"y":2079},{"ds":733.8,"y":2070},{"ds":734.8,"y":2112},{"ds":735.9,"y":2249},{"ds":736.9,"y":2318},{"ds":737.9,"y":2317},{"ds":738.9,"y":2318},{"ds":739.9,"y":2279},{"ds":740.9,"y":2295},{"ds":741.8,"y":2390},{"ds":742.8,"y":2377},{"ds":743.9,"y":2500},{"ds":744.9,"y":2489},{"ds":745.9,"y":2442},{"ds":746.9,"y":2436},{"ds":747.8,"y":2539}
    ]
  },
  "columns": 2,
  "bounds": "flush",
  "spacing": {"row": 66, "column": 63},
  "concat": [
    {
      "data": {"name": "H10"}, "title": "unique_id=H10", "width": 724, "height": 279,
      "mark": {"type": "line", "strokeWidth": 2},
      "encoding": {
        "x": {"field": "ds", "type": "quantitative", "scale": {"domain": [572.65, 756.35], "nice": false, "zero": false}, "axis": {"values": [575, 600, 625, 650, 675, 700, 725, 750], "title": null}},
        "y": {"field": "y", "type": "quantitative", "scale": {"domain": [328, 511], "nice": false, "zero": false}, "axis": {"values": [350, 375, 400, 425, 450, 475, 500], "format": "d", "title": "Target [y]"}},
        "color": {"datum": "y", "scale": {"range": ["#2f3575"]}, "legend": {"title": null, "orient": "none", "legendX": 1537, "legendY": 21, "symbolType": "M-1,0H2", "symbolSize": 400, "symbolStrokeWidth": 2, "symbolFillColor": "transparent", "strokeColor": "#cccccc", "fillColor": "white", "cornerRadius": 3, "padding": 4, "labelOffset": 22}}
      }
    },
    {
      "data": {"name": "H1"}, "title": "unique_id=H1", "width": 724, "height": 279,
      "mark": {"type": "line", "strokeWidth": 2},
      "encoding": {
        "x": {"field": "ds", "type": "quantitative", "scale": {"domain": [572.65, 756.35], "nice": false, "zero": false}, "axis": {"values": [575, 600, 625, 650, 675, 700, 725, 750], "title": null}},
        "y": {"field": "y", "type": "quantitative", "scale": {"domain": [386.5, 951.4], "nice": false, "zero": false}, "axis": {"values": [400, 500, 600, 700, 800, 900], "format": "d", "title": null}},
        "color": {"datum": "y"}
      }
    },
    {
      "data": {"name": "H100"}, "title": "unique_id=H100", "width": 724, "height": 279,
      "mark": {"type": "line", "strokeWidth": 2},
      "encoding": {
        "x": {"field": "ds", "type": "quantitative", "scale": {"domain": [572.65, 756.35], "nice": false, "zero": false}, "axis": {"values": [575, 600, 625, 650, 675, 700, 725, 750], "title": null}},
        "y": {"field": "y", "type": "quantitative", "scale": {"domain": [528, 1391], "nice": false, "zero": false}, "axis": {"values": [600, 700, 800, 900, 1000, 1100, 1200, 1300], "format": "d", "title": "Target [y]"}},
        "color": {"datum": "y"}
      }
    },
    {
      "data": {"name": "H106"}, "title": {"text": "unique_id=H106", "offset": 2}, "width": 724, "height": 279,
      "mark": {"type": "line", "strokeWidth": 2},
      "encoding": {
        "x": {"field": "ds", "type": "quantitative", "scale": {"domain": [572.65, 756.35], "nice": false, "zero": false}, "axis": {"values": [575, 600, 625, 650, 675, 700, 725, 750], "title": null}},
        "y": {"field": "y", "type": "quantitative", "scale": {"domain": [1609, 4011], "nice": false, "zero": false}, "axis": {"values": [2000, 2500, 3000, 3500, 4000], "format": "d", "title": null}},
        "color": {"datum": "y"}
      }
    },
    {
      "data": {"name": "H103"}, "title": "unique_id=H103", "width": 724, "height": 279,
      "mark": {"type": "line", "strokeWidth": 2},
      "encoding": {
        "x": {"field": "ds", "type": "quantitative", "scale": {"domain": [572.65, 756.35], "nice": false, "zero": false}, "axis": {"values": [575, 600, 625, 650, 675, 700, 725, 750], "title": null}},
        "y": {"field": "y", "type": "quantitative", "scale": {"domain": [73400, 143790], "nice": false, "zero": false}, "axis": {"values": [80000, 90000, 100000, 110000, 120000, 130000, 140000], "format": "d", "title": "Target [y]"}},
        "color": {"datum": "y"}
      }
    },
    {
      "data": {"name": "H105"}, "title": "unique_id=H105", "width": 724, "height": 279,
      "mark": {"type": "line", "strokeWidth": 2},
      "encoding": {
        "x": {"field": "ds", "type": "quantitative", "scale": {"domain": [572.65, 756.35], "nice": false, "zero": false}, "axis": {"values": [575, 600, 625, 650, 675, 700, 725, 750], "title": null}},
        "y": {"field": "y", "type": "quantitative", "scale": {"domain": [1384, 3050], "nice": false, "zero": false}, "axis": {"values": [1400, 1600, 1800, 2000, 2200, 2400, 2600, 2800, 3000], "format": "d", "title": null}},
        "color": {"datum": "y"}
      }
    },
    {
      "data": {"name": "H104"}, "title": "unique_id=H104", "width": 724, "height": 279,
      "mark": {"type": "line", "strokeWidth": 2},
      "encoding": {
        "x": {"field": "ds", "type": "quantitative", "scale": {"domain": [572.65, 756.35], "nice": false, "zero": false}, "axis": {"values": [575, 600, 625, 650, 675, 700, 725, 750], "title": "Time [ds]", "titlePadding": 2}},
        "y": {"field": "y", "type": "quantitative", "scale": {"domain": [1264, 2667], "nice": false, "zero": false}, "axis": {"values": [1400, 1600, 1800, 2000, 2200, 2400, 2600], "format": "d", "title": "Target [y]"}},
        "color": {"datum": "y"}
      }
    },
    {
      "data": {"name": "H101"}, "title": "unique_id=H101", "width": 724, "height": 279,
      "mark": {"type": "line", "strokeWidth": 2},
      "encoding": {
        "x": {"field": "ds", "type": "quantitative", "scale": {"domain": [572.65, 756.35], "nice": false, "zero": false}, "axis": {"values": [575, 600, 625, 650, 675, 700, 725, 750], "title": "Time [ds]", "titlePadding": 2}},
        "y": {"field": "y", "type": "quantitative", "scale": {"domain": [1845, 2951], "nice": false, "zero": false}, "axis": {"values": [2000, 2200, 2400, 2600, 2800], "format": "d", "title": null}},
        "color": {"datum": "y"}
      }
    }
  ],
  "resolve": {"scale": {"y": "independent", "x": "independent"}}
}
